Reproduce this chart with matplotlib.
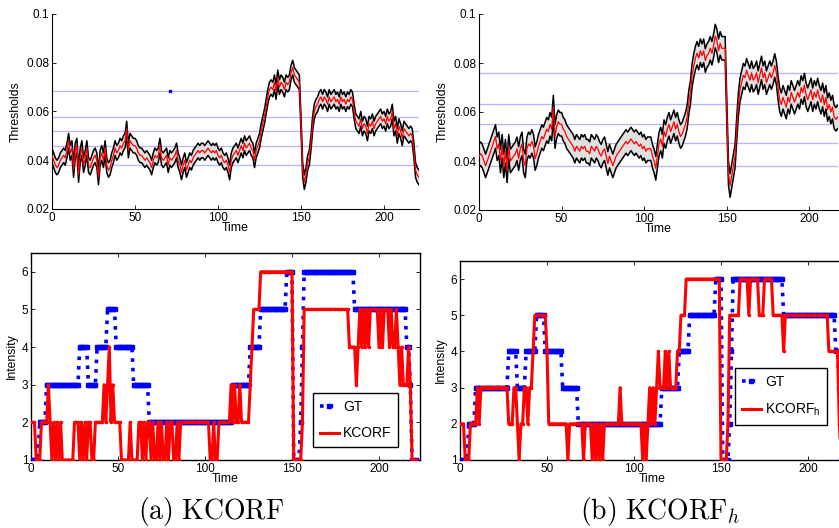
import numpy as np
import matplotlib
matplotlib.use("Agg")
import matplotlib.pyplot as plt

plt.rcParams['font.family'] = ['Liberation Sans', 'DejaVu Sans']
plt.rcParams['mathtext.default'] = 'regular'

# ---------------- data ----------------
# mean detection thresholds (units of 1e-3), one value per frame
thr_a = [42, 40, 38, 37, 38, 40, 41, 42, 41, 44,
         48, 43, 45, 36, 44, 46, 34, 42, 45, 38,
         41, 45, 38, 37, 39, 41, 42, 40, 33, 41,
         43, 40, 45, 38, 36, 37, 40, 42, 45, 43,
         44, 46, 45, 47, 48, 53, 44, 48, 47, 46,
         46, 45, 43, 42, 42, 41, 40, 41, 40, 39,
         37, 40, 42, 41, 42, 46, 41, 40, 41, 42,
         38, 41, 40, 41, 42, 44, 40, 38, 35, 38,
         40, 36, 38, 40, 39, 41, 42, 43, 44, 43,
         44, 44, 43, 44, 45, 44, 43, 44, 43, 44,
         42, 41, 42, 40, 39, 40, 38, 35, 40, 42,
         43, 44, 42, 44, 46, 44, 47, 45, 46, 47,
         45, 44, 40, 44, 46, 48, 52, 55, 58, 62,
         66, 69, 70, 69, 72, 68, 74, 70, 72, 71,
         69, 72, 71, 72, 76, 78, 75, 74, 73, 72,
         55, 36, 31, 34, 39, 41, 47, 55, 60, 62,
         63, 65, 66, 64, 66, 65, 63, 66, 64, 65,
         66, 64, 65, 63, 66, 64, 65, 63, 65, 64,
         66, 65, 60, 56, 55, 54, 57, 53, 55, 54,
         51, 55, 54, 56, 53, 55, 56, 57, 58, 56,
         57, 55, 58, 56, 57, 60, 53, 55, 50, 54,
         52, 49, 53, 52, 51, 50, 51, 50, 44, 36,
         34, 33]
thr_b = [42, 43, 42, 40, 38, 40, 42, 44, 46, 48,
         50, 45, 47, 40, 46, 38, 44, 36, 46, 40,
         41, 42, 43, 45, 41, 45, 47, 40, 38, 45,
         47, 46, 48, 46, 41, 43, 46, 48, 50, 49,
         51, 53, 52, 55, 53, 62, 50, 54, 56, 55,
         55, 53, 52, 50, 49, 48, 47, 46, 44, 46,
         45, 44, 46, 45, 46, 44, 44, 43, 46, 45,
         44, 46, 45, 43, 42, 44, 45, 42, 39, 42,
         40, 38, 40, 42, 43, 44, 45, 46, 47, 48,
         47, 48, 49, 48, 47, 48, 47, 46, 47, 45,
         46, 44, 45, 45, 45, 42, 40, 37, 42, 47,
         49, 46, 52, 50, 53, 55, 52, 54, 56, 53,
         55, 52, 50, 51, 53, 55, 58, 64, 68, 75,
         79, 82, 84, 82, 85, 83, 85, 81, 83, 84,
         86, 84, 87, 91, 89, 85, 88, 86, 86, 86,
         60, 35, 30, 34, 38, 42, 53, 63, 69, 72,
         75, 74, 77, 75, 73, 76, 73, 74, 76, 72,
         75, 78, 74, 76, 72, 74, 76, 74, 76, 79,
         76, 70, 65, 63, 66, 64, 62, 66, 64, 68,
         66, 64, 66, 68, 66, 70, 68, 71, 67, 65,
         67, 69, 65, 68, 66, 69, 66, 64, 67, 63,
         66, 61, 63, 60, 62, 58, 57, 58, 57, 56]
band_a = 3.0          # half-width of the confidence band (1e-3)
band_b = 4.8
levels_a = [68.5, 57.8, 51.8, 46.0, 38.0]   # intensity level boundaries (1e-3)
levels_b = [76.0, 63.4, 55.0, 47.3, 38.0]
point_a = (71, 68.5)

# ground-truth intensity as (level, run length)
gt_levels = [1, 2, 3, 4, 3, 4, 5, 4, 3, 2, 3, 4, 5, 6, 1, 2, 4, 6, 5, 4, 3, 1]
gt_counts = [5, 4, 19, 5, 5, 6, 5, 10, 9, 48, 10, 6, 15, 4, 4, 1, 1, 29, 30, 2, 1, 3]

kcorf = [2, 2, 2, 1, 1, 1, 2, 2, 2, 2,
         3, 2, 1, 2, 1, 2, 1, 2, 1, 1,
         1, 1, 1, 1, 1, 2, 2, 2, 1, 2,
         1, 2, 1, 2, 2, 1, 1, 2, 2, 2,
         2, 2, 3, 2, 3, 4, 2, 3, 2, 2,
         2, 2, 1, 1, 1, 1, 1, 2, 1, 1,
         1, 1, 2, 2, 1, 2, 1, 2, 2, 1,
         2, 1, 1, 2, 1, 2, 1, 1, 2, 1,
         2, 2, 1, 1, 2, 1, 2, 2, 2, 2,
         2, 2, 2, 2, 2, 2, 2, 2, 2, 2,
         2, 2, 2, 1, 1, 2, 1, 1, 2, 2,
         2, 2, 2, 2, 2, 3, 2, 3, 2, 2,
         3, 2, 2, 2, 2, 2, 3, 4, 5, 5,
         5, 5, 6, 6, 6, 6, 6, 6, 6, 6,
         6, 6, 6, 6, 6, 6, 6, 6, 6, 6,
         6, 1, 1, 1, 1, 1, 2, 5, 5, 5,
         5, 5, 5, 5, 5, 5, 5, 5, 5, 5,
         5, 5, 5, 5, 5, 5, 5, 5, 5, 5,
         5, 5, 5, 4, 4, 4, 4, 3, 4, 5,
         4, 5, 4, 5, 4, 5, 5, 5, 5, 5,
         4, 5, 4, 5, 5, 5, 4, 5, 4, 4,
         5, 4, 3, 4, 3, 3, 3, 4, 3, 1,
         1, 1]
kcorf_h = [2, 2, 2, 1, 1, 1, 2, 2, 2, 2,
           3, 2, 3, 3, 3, 3, 3, 3, 3, 3,
           3, 3, 3, 3, 3, 3, 3, 3, 2, 2,
           2, 3, 3, 2, 1, 2, 2, 3, 3, 2,
           3, 3, 4, 5, 5, 5, 5, 5, 5, 5,
           4, 2, 2, 2, 2, 2, 2, 2, 2, 2,
           2, 2, 1, 2, 2, 2, 2, 2, 2, 2,
           2, 1, 2, 2, 2, 2, 1, 2, 1, 2,
           1, 2, 1, 2, 2, 2, 2, 2, 2, 2,
           2, 2, 3, 2, 2, 2, 2, 2, 2, 2,
           2, 2, 2, 2, 2, 1, 2, 1, 2, 3,
           2, 3, 2, 3, 4, 3, 3, 3, 4, 3,
           4, 3, 3, 3, 3, 4, 4, 5, 5, 5,
           6, 6, 6, 6, 6, 6, 6, 6, 6, 6,
           6, 6, 6, 6, 6, 6, 6, 6, 6, 6,
           1, 1, 1, 1, 2, 5, 5, 5, 5, 5,
           5, 6, 6, 6, 6, 6, 5, 6, 6, 6,
           6, 6, 5, 5, 5, 6, 6, 6, 6, 6,
           5, 5, 5, 5, 5, 5, 4, 5, 5, 5,
           5, 5, 5, 5, 5, 5, 5, 5, 5, 5,
           5, 5, 5, 5, 5, 5, 5, 5, 5, 5,
           5, 5, 4, 4, 4, 4, 4, 4, 2, 1,
           1, 1]

x_ticks = [0, 50, 100, 150, 200]
thr_ticks = [0.02, 0.04, 0.06, 0.08, 0.1]
thr_tick_labels = ['0.02', '0.04', '0.06', '0.08', '0.1']
int_ticks = [1, 2, 3, 4, 5, 6]
captions = [r'$\mathrm{(a)\ KCORF}$', r'$\mathrm{(b)\ KCORF}_{\mathit{h}}$']

# ---------------- figure ----------------
W, H = 839, 528
fig = plt.figure(figsize=(W / 100, H / 100), dpi=100)


def px_axes(left, top, right, bottom):
    return fig.add_axes([left / W, 1 - bottom / H, (right - left) / W, (bottom - top) / H])


TICK_FS = 8.5
LABEL_FS = 8.8


def threshold_panel(ax, mean_k, band_k, levels_k, xmax, point=None):
    mean = np.asarray(mean_k, dtype=float) / 1000.0
    band = band_k / 1000.0
    t = np.arange(len(mean))
    for lv in levels_k:
        ax.axhline(lv / 1000.0, color='#b4b4ff', lw=0.9, zorder=1)
    ax.fill_between(t, mean - band, mean + band, color='#e0e0e0', lw=0, zorder=2)
    ax.plot(t, mean + band, color='black', lw=1.1, zorder=3)
    ax.plot(t, mean - band, color='black', lw=1.1, zorder=3)
    ax.plot(t, mean, color='red', lw=0.9, zorder=4)
    if point is not None:
        ax.plot(point[0], point[1] / 1000.0, 's', color='blue', ms=1.6, zorder=5)
    ax.set_xlim(0, xmax)
    ax.set_ylim(0.02, 0.1)
    ax.set_xticks(x_ticks)
    ax.set_yticks(thr_ticks)
    ax.set_yticklabels(thr_tick_labels)
    for s in ('top', 'right'):
        ax.spines[s].set_visible(False)
    for s in ('left', 'bottom'):
        ax.spines[s].set_linewidth(0.8)
    ax.tick_params(direction='in', length=3, width=0.6, labelsize=TICK_FS, pad=2)
    ax.set_xlabel('Time', fontsize=LABEL_FS, labelpad=-1)
    ax.set_ylabel('Thresholds', fontsize=LABEL_FS, labelpad=3)


def intensity_panel(ax, est, est_label, xmax, legend_anchor):
    gt = np.repeat(gt_levels, gt_counts)
    t = np.arange(len(gt))
    ax.plot(t, gt, ':', color='blue', lw=2.6, marker='s', ms=2.6,
            mec='blue', mfc='blue', label='GT', zorder=3)
    ax.plot(np.arange(len(est)), est, '-', color='red', lw=2.2, marker='.',
            ms=3, label=est_label, zorder=4)
    ax.set_xlim(0, xmax)
    ax.set_ylim(1, 6.5)
    ax.set_xticks(x_ticks)
    ax.set_yticks(int_ticks)
    for s in ax.spines.values():
        s.set_linewidth(1.0)
    ax.tick_params(direction='in', length=3, width=0.6, labelsize=TICK_FS, pad=2,
                   top=True, right=True)
    ax.set_xlabel('Time', fontsize=LABEL_FS, labelpad=-1)
    ax.set_ylabel('Intensity', fontsize=LABEL_FS, labelpad=3)
    leg = ax.legend(loc='upper left', bbox_to_anchor=legend_anchor,
                    bbox_transform=fig.transFigure, fontsize=10,
                    frameon=True, fancybox=False, framealpha=1,
                    edgecolor='black', handlelength=1.35, handletextpad=0.3,
                    labelspacing=0.9, borderpad=0.5, borderaxespad=0)
    leg.get_frame().set_linewidth(1.0)


ax_a = px_axes(52, 14, 419, 209)
threshold_panel(ax_a, thr_a, band_a, levels_a, (419 - 52) / 1.66, point_a)

ax_b = px_axes(479, 14, 838, 210)
threshold_panel(ax_b, thr_b, band_b, levels_b, (838 - 479) / 1.652)

ax_c = px_axes(31, 253, 420, 460)
intensity_panel(ax_c, kcorf, 'KCORF', (420 - 31) / 1.74, (313 / W, 1 - 393 / H))

ax_d = px_axes(460, 261, 844, 460)
intensity_panel(ax_d, kcorf_h, r'KCORF$_{\mathregular{h}}$', (844 - 460) / 1.74,
                (735 / W, 1 - 368 / H))

for cx, cap in zip([211 / W, 660 / W], captions):
    fig.text(cx, 1 - 511 / H, cap, ha='center', va='center', fontsize=20,
             math_fontfamily='cm')

fig.savefig('out.png', dpi=100)
